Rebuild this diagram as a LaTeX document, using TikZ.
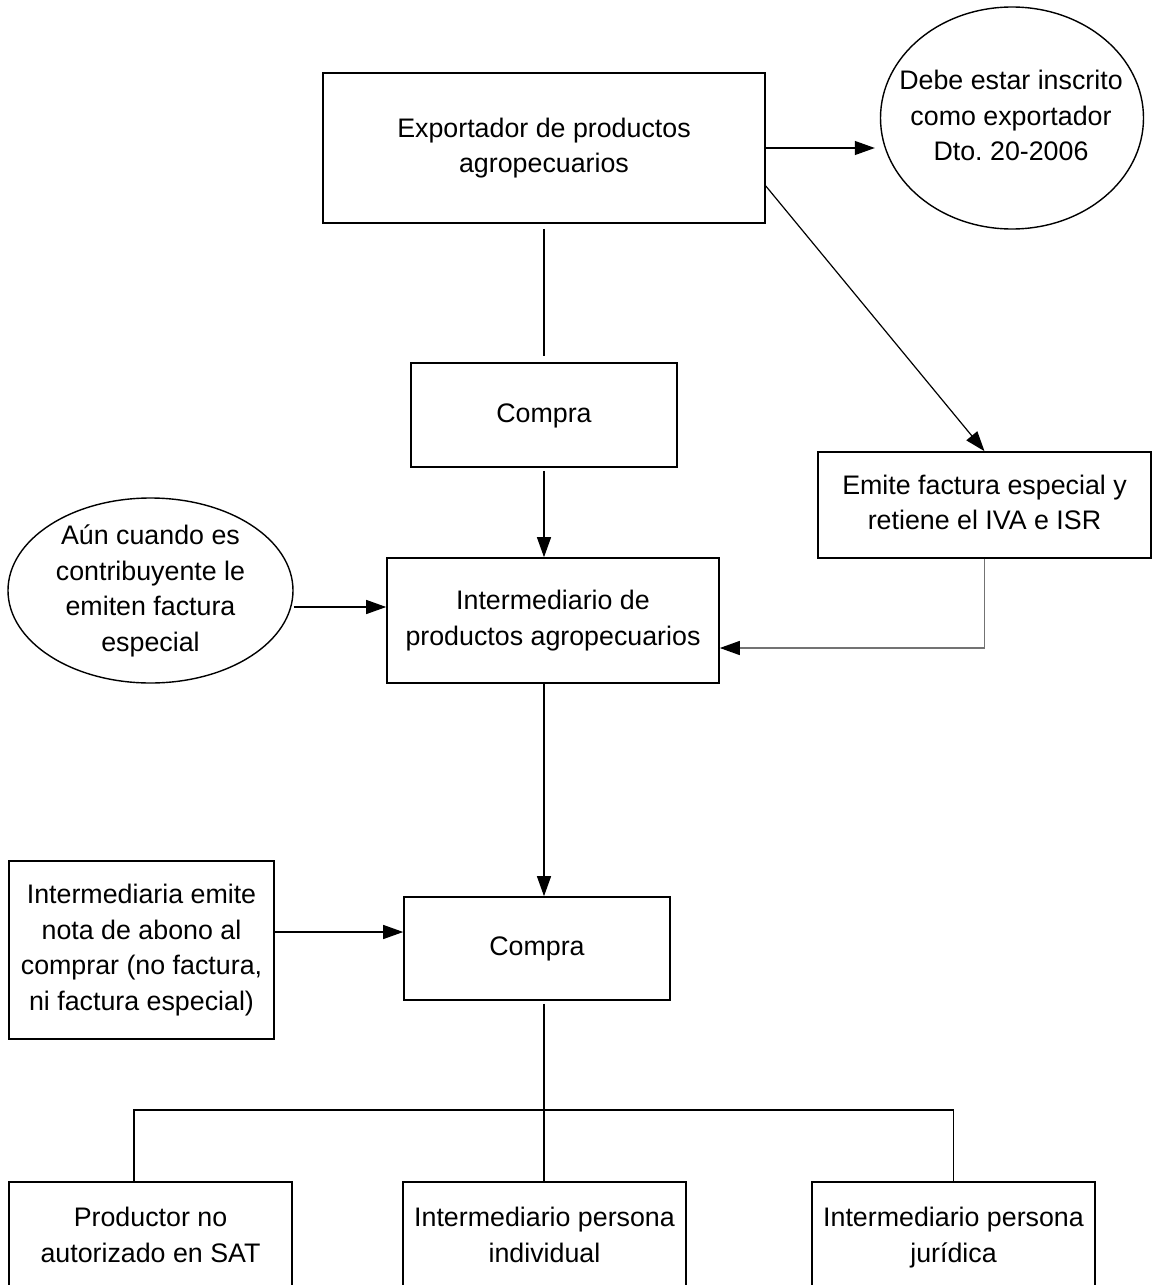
\documentclass[tikz,border=0pt]{standalone}
\usepackage{fontspec}
\setmainfont{Liberation Sans}
\usetikzlibrary{shapes.geometric,arrows.meta,calc}
\frenchspacing
\begin{document}
\begin{tikzpicture}[x=0.5pt,y=-0.5pt,
  txt/.style={inner sep=0pt, align=center, font=\fontsize{13.4pt}{17.75pt}\selectfont},
  box/.style={txt, draw, line width=0.8pt},
  oval/.style={ellipse, draw, line width=0.7pt, inner sep=0pt},
  conn/.style={line width=0.6pt},
  arr/.style={conn, -{Triangle[length=10pt,width=7pt]}},
]
\useasboundingbox (0,0) rectangle (1152,1285);
\clip (0,0) rectangle (1152,1285);

% nodes
\node[box, minimum width=221pt, minimum height=75pt] (exp) at (544,148) {\strut Exportador de productos\\agropecuarios\strut};
\node[oval, minimum width=131.5pt, minimum height=111pt] (deb) at (1012,118) {};
\node[txt] (debt) at (1011,118) {\strut Debe estar inscrito\\como exportador\\Dto. 20-2006\strut};
\node[box, minimum width=133pt, minimum height=52pt] (com1) at (544,415) {\strut Compra\strut};
\node[box, minimum width=166.5pt, minimum height=53pt] (emi) at (984.5,505) {\strut Emite factura especial y\\retiene el IVA e ISR\strut};
\node[box, minimum width=166pt, minimum height=62.5pt] (int) at (553,620.5) {\strut Intermediario de\\productos agropecuarios\strut};
\node[oval, minimum width=142.5pt, minimum height=92.5pt] (aun) at (150.5,590.5) {};
\node[txt] (aunt) at (150.5,591) {\strut Aún cuando es\\contribuyente le\\emiten factura\\especial\strut};
\node[box, minimum width=132.5pt, minimum height=89pt] (inm) at (141.5,950) {\strut Intermediaria emite\\nota de abono al\\comprar (no factura,\\ni factura especial)\strut};
\node[box, minimum width=133pt, minimum height=51.5pt] (com2) at (537,948.5) {\strut Compra\strut};
\node[box, minimum width=141.5pt, minimum height=55.5pt] (p1) at (150.5,1237.5) {\strut Productor no\\autorizado en SAT\strut};
\node[box, minimum width=141.5pt, minimum height=55.5pt] (p2) at (544.5,1237.5) {\strut Intermediario persona\\individual\strut};
\node[box, minimum width=141.5pt, minimum height=55.5pt] (p3) at (953.5,1237.5) {\strut Intermediario persona\\jurídica\strut};

% helper coordinates
\coordinate (yEI) at (0,648);
\coordinate (yAI) at (0,607);
\coordinate (yIC) at (0,932);
\coordinate (yH) at (0,1110);
\coordinate (xM) at (544,0);
\coordinate (xL) at (134,0);

% connectors
\draw[arr, shorten >=2.5pt] (exp.east) -- (exp.east -| deb.west);
\draw[arr] ([yshift=-19pt]exp.east) -- (emi.north);
\draw[conn] ([yshift=-2.5pt]exp.south -| xM) -- ([yshift=3pt]com1.north -| xM);
\draw[arr] ([yshift=-1.5pt]com1.south -| xM) -- (int.north -| xM);
\draw[line width=0.7pt, black!55, -{Triangle[length=10pt,width=7pt,color=black]}] (emi.south) -- (emi.south |- yEI) -- (int.east |- yEI);
\draw[arr] (aun.east |- yAI) -- (int.west |- yAI);
\draw[arr] (int.south -| xM) -- (com2.north -| xM);
\draw[arr] (inm.east |- yIC) -- (com2.west |- yIC);
\draw[conn] ([yshift=-1.5pt]com2.south -| xM) -- (p2.north -| xM);
\draw[conn] (p1.north -| xL) -- (xL |- yH) -- (p3.north |- yH) -- (p3.north);
\end{tikzpicture}
\end{document}
